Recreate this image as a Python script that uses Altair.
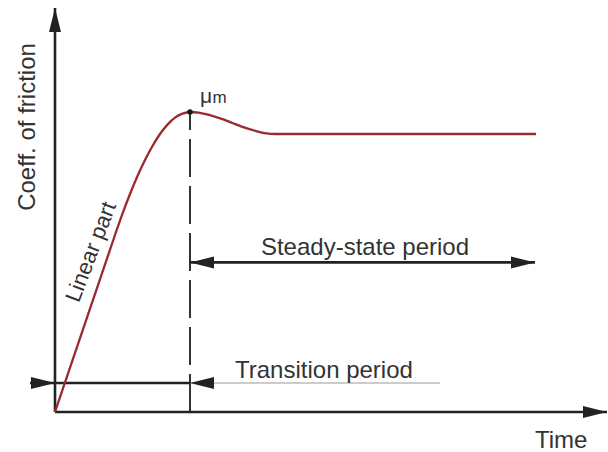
import altair as alt
import pandas as pd

# ---- data (time units on x, coefficient units on y) ----
curve_t = [0, 12, 13.5, 15, 16.5, 18, 19.5, 21, 22.5, 24, 25.5, 27,
           28.7, 30.4, 32.1, 33.8, 35.5, 37.2, 38.9, 40.6, 42.3, 44, 96.2]
curve_mu = [0, 44.25, 49.6, 54.5, 59, 63, 66.5, 69.5, 71.85, 73.6, 74.6, 75,
            74.85, 74.4, 73.8, 73.1, 72.25, 71.4, 70.7, 70.1, 69.65, 69.5, 69.5]

peak_t, peak_mu = 27, 75
end_t = 96
axis_x_end, axis_y_end = 110.4, 101
steady_mu = 37.4
trans_mu = 7.25
trans_start = -5
trans_gray_end = 77

# solid black lines: x, y, x2, y2
solid_x = [0, 0, peak_t, trans_start]
solid_y = [0, 0, steady_mu, trans_mu]
solid_x2 = [0, axis_x_end, end_t, peak_t]
solid_y2 = [axis_y_end, 0, steady_mu, trans_mu]

# arrow heads: tip position and direction
arrow_t = [0, axis_x_end, peak_t, end_t, 0, peak_t]
arrow_mu = [axis_y_end, 0, steady_mu, steady_mu, trans_mu, trans_mu]
arrow_angle = [270, 0, 180, 0, 0, 180]

FONT = "Liberation Sans"
INK = "#222222"
TXT = "#333333"

xs = alt.Scale(domain=[-11, 110.6], nice=False, zero=False)
ys = alt.Scale(domain=[-10, 103], nice=False, zero=False)


def X(f="t"):
    return alt.X(f"{f}:Q", scale=xs, axis=None)


def Y(f="mu"):
    return alt.Y(f"{f}:Q", scale=ys, axis=None)


curve_df = pd.DataFrame({"t": curve_t, "mu": curve_mu})
solid_df = pd.DataFrame({"t": solid_x, "mu": solid_y, "t2": solid_x2, "mu2": solid_y2})
dash_df = pd.DataFrame({"t": [peak_t], "mu": [0], "t2": [peak_t], "mu2": [peak_mu]})
gray_df = pd.DataFrame({"t": [peak_t], "mu": [trans_mu], "t2": [trans_gray_end], "mu2": [trans_mu]})
arrow_df = pd.DataFrame({"t": arrow_t, "mu": arrow_mu, "ang": arrow_angle})
peak_df = pd.DataFrame({"t": [peak_t], "mu": [peak_mu]})

gray = alt.Chart(gray_df).mark_rule(color="#9a9a9a", strokeWidth=1.2).encode(
    x=X(), y=Y(), x2="t2:Q", y2="mu2:Q")
dash = alt.Chart(dash_df).mark_rule(color="#333333", strokeWidth=2, strokeDash=[38, 9]).encode(
    x=X(), y=Y(), x2="t2:Q", y2="mu2:Q")
solid = alt.Chart(solid_df).mark_rule(color=INK, strokeWidth=2.6).encode(
    x=X(), y=Y(), x2="t2:Q", y2="mu2:Q")
curve = alt.Chart(curve_df).mark_line(color="#9b2a2f", strokeWidth=2.3, interpolate="monotone").encode(
    x=X(), y=Y())
arrows = alt.Chart(arrow_df).mark_point(
    shape="M0,0 L-1,-0.25 L-1,0.25 Z", size=2304, filled=True, color=INK, opacity=1
).encode(x=X(), y=Y(), angle=alt.Angle("ang:Q", scale=None))
peak = alt.Chart(peak_df).mark_point(shape="circle", size=30, filled=True, color="#1a1a1a", opacity=1).encode(
    x=X(), y=Y())


def label(text, t, mu, size, align="left", baseline="alphabetic", angle=0):
    df = pd.DataFrame({"t": [t], "mu": [mu], "txt": [text]})
    kw = dict(align=align, baseline=baseline, font=FONT, fontSize=size, color=TXT)
    if angle:
        kw["angle"] = angle
    return alt.Chart(df).mark_text(**kw).encode(x=X(), y=Y(), text="txt:N")


labels = [
    label("Coeff. of friction", -4.0, 71.25, 24, align="center", angle=270),
    label("Linear part", 7.2, 40, 22, align="center", baseline="middle", angle=291),
    label("μ", 29.0, 77.3, 21),
    label("m", 31.5, 77.3, 17),
    label("Steady-state period", 62, 39.25, 24, align="center"),
    label("Transition period", 36, 8.5, 24),
    label("Time", 96, -9, 24),
]

chart = alt.layer(gray, dash, solid, curve, arrows, peak, *labels).properties(
    width=608, height=452, padding=0, autosize=alt.AutoSizeParams(type="none"),
    background="white"
).configure_view(stroke=None)

chart.save("out.html", embed_options={"renderer": "svg", "actions": False})
